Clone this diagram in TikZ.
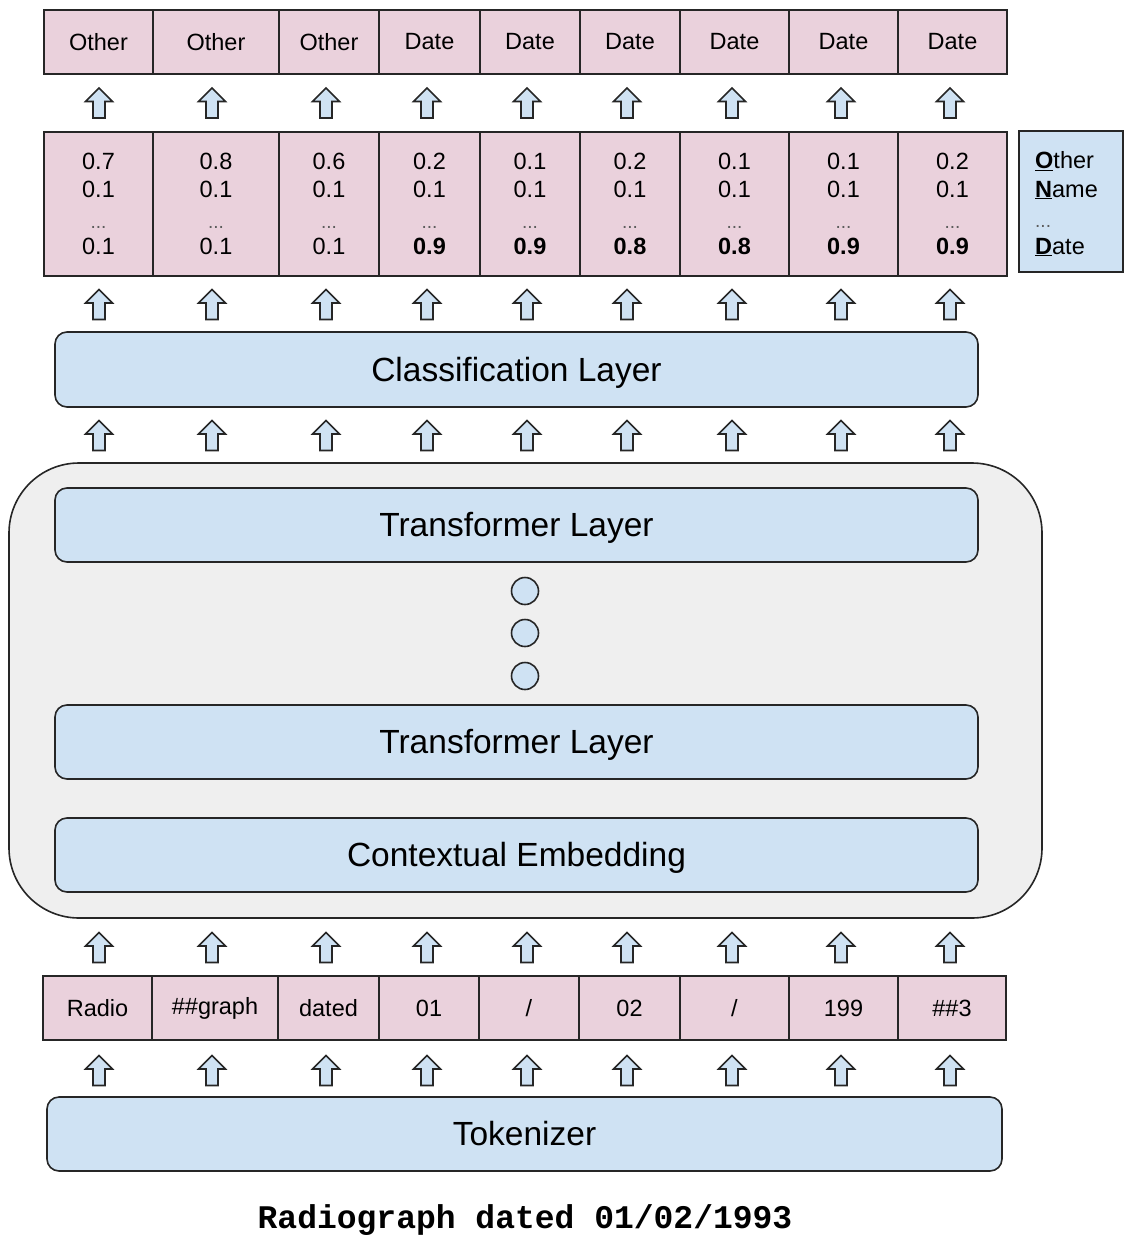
\documentclass[tikz,border=0pt]{standalone}
\usepackage{fontspec}
\setmainfont{Liberation Sans}
\setmonofont{Liberation Mono}
\definecolor{pinkc}{HTML}{EAD1DC}
\definecolor{bluec}{HTML}{CFE2F3}
\definecolor{grayc}{HTML}{EFEFEF}
\definecolor{linec}{HTML}{262626}
\newcommand\dotsline{{\fontsize{19}{28.5}\selectfont\color{linec!75}\raisebox{-2pt}{...}}}
\newcommand\pr[4]{#1\\#2\\\dotsline\\#4}
\newcommand\slashtxt{/}
\tikzset{
  cell/.style={draw=linec, fill=pinkc, line width=1.6pt, inner sep=0pt, align=center,
    font=\fontsize{23.5}{28.5}\selectfont, text=black},
  layer/.style={draw=linec, fill=bluec, line width=1.6pt, rounded corners=12pt,
    inner sep=0pt, font=\fontsize{33.5}{38}\selectfont, text height=23pt, text depth=0pt},
  arrowst/.style={draw=linec, fill=bluec, line width=1.6pt, line join=miter},
  uparr/.pic={\draw[arrowst] (0,-15) -- (13.5,-1.5) -- (6,-1.5) -- (6,15) -- (-6,15) -- (-6,-1.5) -- (-13.5,-1.5) -- cycle;}
}
\begin{document}
\begin{tikzpicture}[x=1pt,y=-1pt]
\useasboundingbox (0,0) rectangle (1124,1237);
% encoder container
\node[draw=linec, fill=grayc, line width=1.6pt, rounded corners=70pt, minimum width=1033pt, minimum height=455pt, inner sep=0pt] (enc) at (525.5,690.5) {};
% top labels
\foreach \a/\b/\t [count=\i] in {44/153/Other,153/279/Other,279/379/Other,379/480/Date,480/580/Date,580/680/Date,680/789/Date,789/898/Date,898/1007/Date}
  \node[cell, minimum width={(\b-\a)*1pt}, minimum height=64pt] (t\i) at ({(\a+\b)/2},42) {\t};
% probabilities
\foreach \a/\b/\t [count=\i] in {
  44/153/{\pr{0.7}{0.1}{}{0.1}},
  153/279/{\pr{0.8}{0.1}{}{0.1}},
  279/379/{\pr{0.6}{0.1}{}{0.1}},
  379/480/{\pr{0.2}{0.1}{}{\textbf{0.9}}},
  480/580/{\pr{0.1}{0.1}{}{\textbf{0.9}}},
  580/680/{\pr{0.2}{0.1}{}{\textbf{0.8}}},
  680/789/{\pr{0.1}{0.1}{}{\textbf{0.8}}},
  789/898/{\pr{0.1}{0.1}{}{\textbf{0.9}}},
  898/1007/{\pr{0.2}{0.1}{}{\textbf{0.9}}}}
  \node[cell, minimum width={(\b-\a)*1pt}, minimum height=144pt] (p\i) at ({(\a+\b)/2},204) {\t};
% legend
\node[draw=linec, fill=bluec, line width=1.6pt, minimum width=104pt, minimum height=141pt, inner sep=0pt] (leg) at (1071,201.5) {};
\node[anchor=west, align=left, font=\fontsize{23.5}{28.5}\selectfont, inner sep=0pt] (legt) at (1035,204)
  {\underline{\textbf{O}}ther\\\underline{\textbf{N}}ame\\\dotsline\\\underline{\textbf{D}}ate};
% layers
\node[layer, minimum width=923pt, minimum height=75pt] (cls) at (516.5,369.5) {Classification Layer};
\node[layer, minimum width=923pt, minimum height=74pt] (tr1) at (516.5,525) {Transformer Layer};
\node[layer, minimum width=923pt, minimum height=74pt] (tr2) at (516.5,742) {Transformer Layer};
\node[layer, minimum width=923pt, minimum height=74pt] (emb) at (516.5,855) {Contextual Embedding};
\foreach \y [count=\i] in {591,633,676}
  \node[circle, draw=linec, fill=bluec, line width=1.6pt, minimum size=27pt, inner sep=0pt] (c\i) at (525,\y) {};
% tokens
\foreach \a/\b/\t [count=\i] in {43/152/Radio,152/278/\#\#graph,278/379/dated,379/479/01,479/579/\slashtxt,579/680/02,680/789/\slashtxt,789/898/199,898/1006/\#\#3}
  \node[cell, minimum width={(\b-\a)*1pt}, minimum height=64pt] (k\i) at ({(\a+\b)/2},1008) {\t};
\node[layer, minimum width=955pt, minimum height=74pt] (tok) at (524.5,1134) {Tokenizer};
\node[font=\fontsize{33}{36}\selectfont\ttfamily\bfseries, inner sep=0pt] (txt) at (525,1220) {Radiograph dated 01/02/1993};
% arrows
\foreach \y in {103,304.5,435.5,947.5,1070.5}
  \foreach \x in {99,212,326,427,527,627,732,841,950}
    \pic at (\x,\y) {uparr};
\end{tikzpicture}
\end{document}
